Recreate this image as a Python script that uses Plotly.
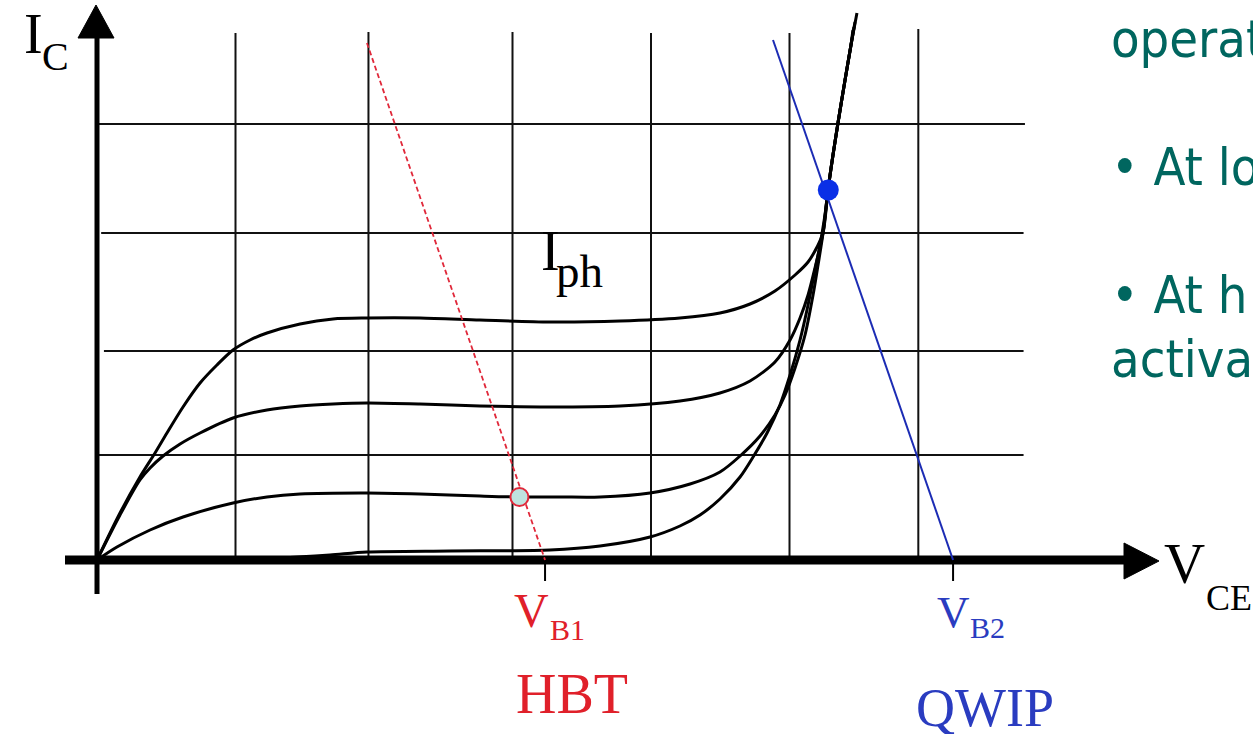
import plotly.graph_objects as go

# ---------------- data (V in grid units, I in arbitrary current units) ----------------
v_grid = [1.0, 1.96, 3.0, 4.0, 5.0, 5.93]
v_grid_top = [5.27, 5.28, 5.28, 5.27, 5.27, 5.31]
i_grid = [1.05, 2.09, 3.27, 4.36]
i_grid_start = [0.0, 0.05, 0.03, 0.0]
i_grid_end = [6.69, 6.69, 6.69, 6.70]

curve1_v = [0, 0.166, 0.310, 0.419, 0.505, 0.621, 0.744, 0.866, 0.982, 1.105, 1.227, 1.466, 1.704, 1.949, 2.332, 2.765,
            3.271, 3.776, 4.209, 4.498, 4.715, 4.895, 5.040, 5.134, 5.199, 5.242, 5.278, 5.314, 5.350, 5.401, 5.444, 5.487]
curve1_i = [0, 0.47, 0.83, 1.07, 1.27, 1.53, 1.77, 1.95, 2.10, 2.20, 2.27, 2.36, 2.41, 2.42, 2.42, 2.40,
            2.38, 2.39, 2.42, 2.47, 2.56, 2.69, 2.85, 2.98, 3.13, 3.27, 3.70, 4.05, 4.37, 4.80, 5.15, 5.47]

curve2_v = [0, 0.166, 0.310, 0.383, 0.477, 0.600, 0.744, 0.982, 1.227, 1.466, 1.704, 1.949, 2.332, 2.765, 3.271,
            3.776, 4.209, 4.498, 4.715, 4.895, 5.004, 5.076, 5.134, 5.184, 5.242, 5.278, 5.314, 5.350, 5.401, 5.444, 5.473]
curve2_i = [0, 0.45, 0.80, 0.92, 1.04, 1.16, 1.27, 1.42, 1.50, 1.54, 1.56, 1.57, 1.56, 1.54, 1.53,
            1.54, 1.59, 1.67, 1.79, 1.98, 2.20, 2.42, 2.65, 2.92, 3.27, 3.70, 4.05, 4.37, 4.80, 5.15, 5.38]

curve3_v = [0, 0.144, 0.383, 0.621, 0.982, 1.227, 1.466, 1.949, 2.332, 2.765, 3.047, 3.343, 3.632, 3.993, 4.282,
            4.498, 4.643, 4.787, 4.895, 4.968, 5.040, 5.112, 5.170, 5.206, 5.242, 5.278, 5.314, 5.350, 5.401, 5.444, 5.466]
curve3_i = [0, 0.13, 0.30, 0.43, 0.57, 0.63, 0.66, 0.67, 0.66, 0.64, 0.63, 0.63, 0.63, 0.67, 0.76,
            0.88, 1.04, 1.24, 1.45, 1.65, 1.92, 2.25, 2.65, 2.95, 3.27, 3.70, 4.05, 4.37, 4.80, 5.15, 5.33]

curve4_v = [0, 0.744, 1.321, 1.682, 1.949, 2.549, 3.271, 3.632, 3.993, 4.209, 4.354, 4.498, 4.643, 4.737,
            4.838, 4.931, 5.004, 5.076, 5.134, 5.184, 5.220, 5.256, 5.278, 5.314, 5.350, 5.401, 5.444, 5.458]
curve4_i = [0, 0.0, 0.02, 0.05, 0.08, 0.09, 0.10, 0.14, 0.23, 0.34, 0.45, 0.61, 0.83, 1.03,
            1.27, 1.55, 1.85, 2.20, 2.55, 2.90, 3.15, 3.45, 3.70, 4.05, 4.37, 4.80, 5.15, 5.30]

hbt_load_v = [1.949, 3.235]
hbt_load_i = [5.17, 0.0]
qwip_load_v = [4.881, 6.181]
qwip_load_i = [5.20, 0.0]

hbt_op_v, hbt_op_i = [3.05], [0.63]
qwip_op_v, qwip_op_i = [5.28], [3.70]

vb1 = 3.235
vb2 = 6.181

# ---------------- pixel helpers ----------------
W, H = 1253, 734
X0, Y0, SX, SY = 97.0, 560.0, 138.5, 100.0
def px2x(px):
    return (px - X0) / SX
def py2y(py):
    return (Y0 - py) / SY

fig = go.Figure()

shapes = []
for v, top in zip(v_grid, v_grid_top):
    shapes.append(dict(type="line", xref="x", yref="y", x0=v, x1=v, y0=0, y1=top,
                       line=dict(color="#111111", width=2), layer="below"))
for i, s, e in zip(i_grid, i_grid_start, i_grid_end):
    shapes.append(dict(type="line", xref="x", yref="y", x0=s, x1=e, y0=i, y1=i,
                       line=dict(color="#111111", width=2), layer="below"))
shapes.append(dict(type="line", xref="x", yref="y", x0=0, x1=0, y0=py2y(594), y1=py2y(38),
                   line=dict(color="black", width=5), layer="below"))
shapes.append(dict(type="line", xref="x", yref="y", x0=px2x(65), x1=px2x(1127), y0=0, y1=0,
                   line=dict(color="black", width=9), layer="below"))
yt, yb = py2y(5), py2y(38)
shapes.append(dict(type="path", xref="x", yref="y",
                   path=f"M {px2x(78)} {yb} L {px2x(96)} {yt} L {px2x(114)} {yb} Z",
                   fillcolor="black", line=dict(color="black", width=1), layer="below"))
xb, xt = px2x(1124), px2x(1159)
shapes.append(dict(type="path", xref="x", yref="y",
                   path=f"M {xb} {py2y(543)} L {xt} {py2y(561)} L {xb} {py2y(579)} Z",
                   fillcolor="black", line=dict(color="black", width=1), layer="below"))
for v in (vb1, vb2):
    shapes.append(dict(type="line", xref="x", yref="y", x0=v, x1=v, y0=0, y1=py2y(581),
                       line=dict(color="black", width=2), layer="below"))

for cv, ci in ((curve4_v, curve4_i), (curve3_v, curve3_i), (curve2_v, curve2_i), (curve1_v, curve1_i)):
    fig.add_trace(go.Scatter(x=cv, y=ci, mode="lines",
                             line=dict(color="black", width=3, shape="spline", smoothing=0.8),
                             hoverinfo="skip", showlegend=False))

fig.add_trace(go.Scatter(x=hbt_load_v, y=hbt_load_i, mode="lines",
                         line=dict(color="#e0283a", width=1.8, dash="5px,3px"),
                         hoverinfo="skip", showlegend=False))
fig.add_trace(go.Scatter(x=qwip_load_v, y=qwip_load_i, mode="lines",
                         line=dict(color="#1c2cb4", width=2),
                         hoverinfo="skip", showlegend=False))

fig.add_trace(go.Scatter(x=hbt_op_v, y=hbt_op_i, mode="markers",
                         marker=dict(size=18, color="#bfe3df", line=dict(color="#e0283a", width=2)),
                         hoverinfo="skip", showlegend=False))
fig.add_trace(go.Scatter(x=qwip_op_v, y=qwip_op_i, mode="markers",
                         marker=dict(size=21, color="#0a2fe6", line=dict(width=0)),
                         hoverinfo="skip", showlegend=False))

SERIF = "Liberation Serif, Times New Roman, serif"
SANS = "DejaVu Sans Condensed, DejaVu Sans, sans-serif"
annotations = []
def label(text, left_px, baseline_px, size, color="black", family=SERIF):
    annotations.append(dict(text=text, x=px2x(left_px), y=py2y(baseline_px - 0.34 * size),
                            xref="x", yref="y", xanchor="left", yanchor="middle",
                            showarrow=False, borderpad=0,
                            font=dict(family=family, size=size, color=color)))

label("I", 23, 53, 56)
label("C", 41, 70, 40)
label("V", 1163, 583, 57)
label("CE", 1205, 610, 36)
label("I", 540, 270, 56)
label("ph", 555, 287, 47)
label("V", 513, 627, 48, "#e0202a")
label("B1", 549, 640, 30, "#e0202a")
label("HBT", 515, 713, 56, "#e0202a")
label("V", 936, 627, 45, "#2a3cc0")
label("B2", 969, 638, 30, "#2a3cc0")
label("QWIP", 915, 726, 54, "#2a3cc0")

TEAL = "#00665f"
label("operat", 1110, 57, 52, TEAL, SANS)
label("• At lo", 1110, 185, 52, TEAL, SANS)
label("• At h", 1110, 313, 52, TEAL, SANS)
label("activat", 1110, 377, 52, TEAL, SANS)

fig.update_layout(
    width=W, height=H,
    margin=dict(l=0, r=0, t=0, b=0),
    paper_bgcolor="white", plot_bgcolor="white",
    xaxis=dict(range=[px2x(0), px2x(W)], visible=False, fixedrange=True),
    yaxis=dict(range=[py2y(H), py2y(0)], visible=False, fixedrange=True),
    shapes=shapes, annotations=annotations, showlegend=False,
    hovermode=False,
)
fig.write_html("out.html", config={"displayModeBar": False, "staticPlot": True},
               post_script="document.body.style.margin='0px'; document.body.style.overflow='hidden';")
